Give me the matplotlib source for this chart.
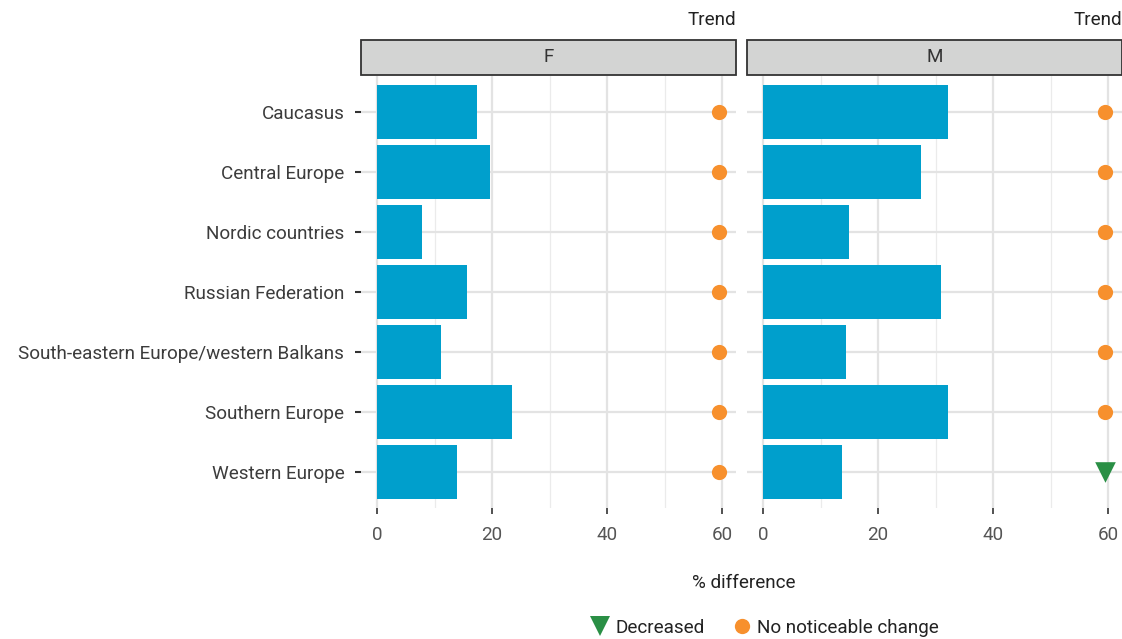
import matplotlib.pyplot as plt
from matplotlib.patches import Rectangle
from matplotlib.lines import Line2D

# Data
regions = ["Caucasus", "Central Europe", "Nordic countries", "Russian Federation",
           "South-eastern Europe/western Balkans", "Southern Europe", "Western Europe"]
female = [17.4, 19.6, 7.8, 15.7, 11.1, 23.5, 13.9]
male = [32.2, 27.5, 15.0, 31.0, 14.4, 32.2, 13.7]
trend_f = ["No noticeable change"] * 7
trend_m = ["No noticeable change"] * 6 + ["Decreased"]
trend_pos = 59.5
panels = ["F", "M"]

bar_col = "#009FCC"
orange = "#F7902D"
green = "#2A8F45"
text_col = "#3C3C3C"

plt.rcParams['font.family'] = ['Roboto', 'DejaVu Sans']
fs = 13.6

fig = plt.figure(figsize=(11.22, 6.39), dpi=100)
ax_f = fig.add_axes([361 / 1122, 131 / 639, 375 / 1122, 432 / 639])
ax_m = fig.add_axes([747 / 1122, 131 / 639, 375 / 1122, 432 / 639])

ypos = list(range(len(regions)))

for ax, vals, trends, name in [(ax_f, female, trend_f, "F"), (ax_m, male, trend_m, "M")]:
    ax.barh(ypos, vals, height=0.9, color=bar_col, zorder=2)
    for y, t in zip(ypos, trends):
        if t == "Decreased":
            ax.scatter(trend_pos, y, marker="v", s=220, color=green, zorder=3, linewidths=0)
        else:
            ax.scatter(trend_pos, y, marker="o", s=120, color=orange, zorder=3, linewidths=0)
    ax.set_xlim(-2.8, 62.4)
    ax.set_ylim(len(regions) - 0.4, -0.6)
    ax.set_xticks([0, 20, 40, 60])
    ax.set_xticks([10, 30, 50], minor=True)
    ax.grid(True, which="major", color="#E3E3E3", linewidth=1.6, zorder=0)
    ax.grid(True, which="minor", axis="x", color="#EBEBEB", linewidth=0.9, zorder=0)
    ax.set_axisbelow(True)
    for s in ax.spines.values():
        s.set_visible(False)
    ax.tick_params(axis="x", which="major", length=4, width=1.2, color="#333333",
                   labelsize=fs, labelcolor="#555555", pad=9)
    ax.tick_params(axis="x", which="minor", length=0)
    ax.set_yticks(ypos)
    # strip
    ax.add_patch(Rectangle((0, 1.002), 1, 0.081, transform=ax.transAxes, clip_on=False,
                           facecolor="#D3D4D3", edgecolor="#333333", linewidth=1.3))
    ax.text(0.5, 1.043, name, transform=ax.transAxes, ha="center", va="center",
            fontsize=fs, color="#333333")
    ax.text(1.0, 1.13, "Trend", transform=ax.transAxes, ha="right", va="center",
            fontsize=fs, color="#222222")

ax_f.set_yticklabels(regions)
ax_f.tick_params(axis="y", length=4, width=1.5, color="#333333", labelsize=fs,
                 labelcolor=text_col, pad=8)
ax_m.tick_params(axis="y", length=0, labelleft=False)

fig.text(744 / 1122, 1 - 583 / 639, "% difference", ha="center", va="center",
         fontsize=fs, color="#222222")

handles = [Line2D([], [], marker="v", linestyle="none", markersize=14, color=green,
                  markeredgewidth=0, label="Decreased"),
           Line2D([], [], marker="o", linestyle="none", markersize=11, color=orange,
                  markeredgewidth=0, label="No noticeable change")]
leg = fig.legend(handles=handles, loc="center", bbox_to_anchor=(764 / 1122, 1 - 628 / 639),
                 ncol=2, frameon=False, fontsize=fs, handletextpad=0.2,
                 columnspacing=1.4, handlelength=1.2)
for t in leg.get_texts():
    t.set_color("#222222")

fig.savefig("out.png", dpi=100)
